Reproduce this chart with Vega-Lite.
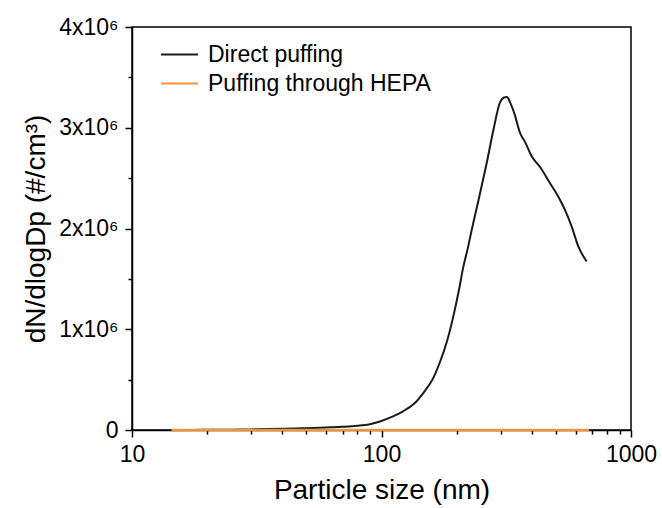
{
  "$schema": "https://vega.github.io/schema/vega-lite/v6.json",
  "width": 499,
  "height": 403,
  "autosize": {"type": "none"},
  "padding": {"left": 132, "top": 27, "right": 31, "bottom": 78},
  "background": "white",
  "config": {
    "view": {"stroke": "black", "strokeWidth": 1.5},
    "font": "Liberation Sans",
    "axis": {"grid": false, "domainColor": "black", "domainWidth": 1.5, "tickColor": "black", "tickWidth": 1.5, "labelColor": "black", "titleColor": "black", "labelFont": "Liberation Sans", "titleFont": "Liberation Sans", "titleFontWeight": "normal"}
  },
  "datasets": {
    "pts": [
      {"size": 14.4, "value": 500, "series": "Direct puffing"},
      {"size": 16, "value": 800, "series": "Direct puffing"},
      {"size": 18, "value": 1200, "series": "Direct puffing"},
      {"size": 20, "value": 1800, "series": "Direct puffing"},
      {"size": 25, "value": 3500, "series": "Direct puffing"},
      {"size": 30, "value": 6000, "series": "Direct puffing"},
      {"size": 35, "value": 9000, "series": "Direct puffing"},
      {"size": 40, "value": 12000, "series": "Direct puffing"},
      {"size": 45, "value": 15000, "series": "Direct puffing"},
      {"size": 50, "value": 18000, "series": "Direct puffing"},
      {"size": 60, "value": 25000, "series": "Direct puffing"},
      {"size": 70, "value": 32000, "series": "Direct puffing"},
      {"size": 80, "value": 42000, "series": "Direct puffing"},
      {"size": 90, "value": 58000, "series": "Direct puffing"},
      {"size": 98.6, "value": 85000, "series": "Direct puffing"},
      {"size": 110, "value": 130000, "series": "Direct puffing"},
      {"size": 122, "value": 185000, "series": "Direct puffing"},
      {"size": 135, "value": 260000, "series": "Direct puffing"},
      {"size": 147, "value": 367000, "series": "Direct puffing"},
      {"size": 160, "value": 500000, "series": "Direct puffing"},
      {"size": 171, "value": 665000, "series": "Direct puffing"},
      {"size": 183, "value": 880000, "series": "Direct puffing"},
      {"size": 194, "value": 1128000, "series": "Direct puffing"},
      {"size": 204, "value": 1380000, "series": "Direct puffing"},
      {"size": 213, "value": 1624000, "series": "Direct puffing"},
      {"size": 222, "value": 1810000, "series": "Direct puffing"},
      {"size": 230, "value": 1988000, "series": "Direct puffing"},
      {"size": 245, "value": 2286000, "series": "Direct puffing"},
      {"size": 264, "value": 2650000, "series": "Direct puffing"},
      {"size": 281, "value": 2980000, "series": "Direct puffing"},
      {"size": 298, "value": 3246000, "series": "Direct puffing"},
      {"size": 310, "value": 3300000, "series": "Direct puffing"},
      {"size": 318, "value": 3305000, "series": "Direct puffing"},
      {"size": 328, "value": 3250000, "series": "Direct puffing"},
      {"size": 343, "value": 3120000, "series": "Direct puffing"},
      {"size": 351, "value": 3030000, "series": "Direct puffing"},
      {"size": 359, "value": 2950000, "series": "Direct puffing"},
      {"size": 376, "value": 2860000, "series": "Direct puffing"},
      {"size": 400, "value": 2716000, "series": "Direct puffing"},
      {"size": 432, "value": 2610000, "series": "Direct puffing"},
      {"size": 473, "value": 2452000, "series": "Direct puffing"},
      {"size": 519, "value": 2286000, "series": "Direct puffing"},
      {"size": 543, "value": 2187000, "series": "Direct puffing"},
      {"size": 578, "value": 2021000, "series": "Direct puffing"},
      {"size": 615, "value": 1822000, "series": "Direct puffing"},
      {"size": 664, "value": 1673000, "series": "Direct puffing"},
      {"size": 14.4, "value": 300, "series": "Puffing through HEPA"},
      {"size": 20, "value": 300, "series": "Puffing through HEPA"},
      {"size": 30, "value": 400, "series": "Puffing through HEPA"},
      {"size": 50, "value": 400, "series": "Puffing through HEPA"},
      {"size": 70, "value": 300, "series": "Puffing through HEPA"},
      {"size": 100, "value": 300, "series": "Puffing through HEPA"},
      {"size": 150, "value": 200, "series": "Puffing through HEPA"},
      {"size": 200, "value": 200, "series": "Puffing through HEPA"},
      {"size": 300, "value": 200, "series": "Puffing through HEPA"},
      {"size": 450, "value": 200, "series": "Puffing through HEPA"},
      {"size": 680, "value": 200, "series": "Puffing through HEPA"}
    ]
  },
  "data": {"name": "pts"},
  "resolve": {"axis": {"x": "independent", "y": "independent"}},
  "layer": [
    {
      "transform": [{"filter": "datum.series == 'Direct puffing'"}],
      "mark": {"type": "line", "strokeWidth": 2, "interpolate": "monotone"},
      "encoding": {
        "x": {"field": "size", "type": "quantitative",
          "scale": {"type": "log", "domain": [10, 1000], "nice": false},
          "axis": {"orient": "bottom", "values": [10, 100, 1000], "format": "d", "tickSize": 7, "labelPadding": 6, "labelFontSize": 23, "title": "Particle size (nm)", "titleFontSize": 28, "titlePadding": 10, "labelFlush": false}},
        "y": {"field": "value", "type": "quantitative",
          "scale": {"domain": [0, 4000000], "nice": false},
          "axis": {"orient": "left", "values": [0, 1000000, 2000000, 3000000, 4000000], "labelExpr": "datum.value == 0 ? '0' : format(datum.value / 1000000, 'd') + 'x10⁶'", "tickSize": 7, "labelPadding": 7, "labelFontSize": 23, "title": "dN/dlogDp (#/cm³)", "titleFontSize": 28, "titlePadding": 8}},
        "color": {"field": "series", "type": "nominal",
          "scale": {"domain": ["Direct puffing", "Puffing through HEPA"], "range": ["#1a1a1a", "#f5923e"]},
          "legend": {"title": null, "orient": "none", "legendX": 36, "legendY": 16, "symbolType": "M-2,0H2", "symbolSize": 342, "symbolStrokeWidth": 2, "symbolFillColor": "transparent", "labelFontSize": 23, "labelColor": "black", "labelOffset": 17, "labelLimit": 500, "rowPadding": 5, "labelFont": "Liberation Sans"}}
      }
    },
    {
      "transform": [{"filter": "datum.series == 'Puffing through HEPA'"}],
      "mark": {"type": "line", "strokeWidth": 2.5},
      "encoding": {
        "x": {"field": "size", "type": "quantitative",
          "scale": {"type": "log", "domain": [10, 1000], "nice": false},
          "axis": {"orient": "bottom", "values": [20, 30, 40, 50, 60, 70, 80, 90, 200, 300, 400, 500, 600, 700, 800, 900], "labels": false, "domain": false, "tickSize": 4, "title": null}},
        "y": {"field": "value", "type": "quantitative",
          "scale": {"domain": [0, 4000000], "nice": false},
          "axis": {"orient": "left", "values": [500000, 1500000, 2500000, 3500000], "labels": false, "domain": false, "tickSize": 4, "title": null}},
        "color": {"field": "series", "type": "nominal",
          "scale": {"domain": ["Direct puffing", "Puffing through HEPA"], "range": ["#1a1a1a", "#f5923e"]}}
      }
    }
  ]
}
